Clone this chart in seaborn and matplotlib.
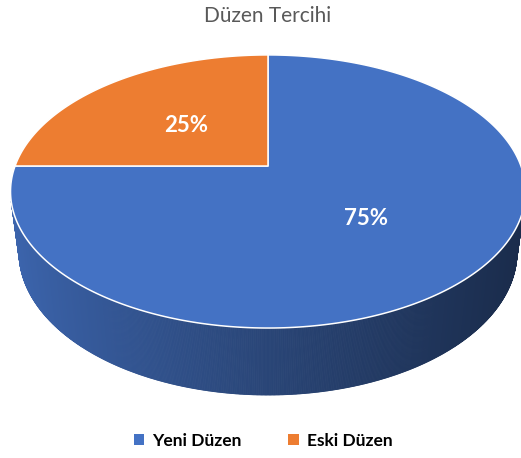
import numpy as np
import matplotlib
matplotlib.use("Agg")
import matplotlib.pyplot as plt
import seaborn as sns
from matplotlib.patches import Patch
from matplotlib.collections import PolyCollection
from matplotlib.colors import to_rgb

# ---- data ----
categories = ["Yeni Düzen", "Eski Düzen"]
values = [75, 25]
title = "Düzen Tercihi"

sns.set_theme(style="white")
plt.rcParams['font.family'] = ['Lato', 'DejaVu Sans']

top_colors = ["#4472C4", "#ED7D31"]

# ---- 3D perspective projection of a disc ----
elev = np.deg2rad(31.4)
dist = 4.574
scale = 1157.0
cx, cy = 268.0, 166.0
thick = 0.287
S, C = np.sin(elev), np.cos(elev)


def project(x, y, z):
    depth = dist + y * C - z * S
    px = cx + scale * x / depth
    py = cy - scale * (y * S + z * C) / depth
    return px, py


fig = plt.figure(figsize=(5.21, 4.58), dpi=100)
ax = fig.add_axes([0, 0, 1, 1])
ax.set_xlim(0, 521)
ax.set_ylim(458, 0)
ax.axis("off")

total = float(sum(values))
cum = np.concatenate([[0], np.cumsum(values)]) / total
theta1 = np.deg2rad(90 - 360 * cum[:-1])
theta2 = np.deg2rad(90 - 360 * cum[1:])


def slice_of(t):
    # angle measured clockwise from 90 deg
    frac = ((np.pi / 2 - t) % (2 * np.pi)) / (2 * np.pi)
    return int(np.searchsorted(cum[1:], frac, side="right"))

# ---- side wall (front facing only) ----
n = 720
ts = np.linspace(-np.pi, 0, n + 1)
thr = -1.0 / (dist * C)
xl, xr = 13.0, 521.0
polys, cols = [], []
for a, b in zip(ts[:-1], ts[1:]):
    m = 0.5 * (a + b)
    if np.sin(m) > thr:
        continue
    p1 = project(np.cos(a), np.sin(a), 0)
    p2 = project(np.cos(b), np.sin(b), 0)
    p3 = project(np.cos(b), np.sin(b), -thick)
    p4 = project(np.cos(a), np.sin(a), -thick)
    polys.append([p1, p2, p3, p4])
    u = np.clip((0.5 * (p1[0] + p2[0]) - xl) / (xr - xl), 0, 1)
    f = 0.88 - 0.49 * u ** 0.85
    base = np.array(to_rgb(top_colors[slice_of(m)]))
    cols.append(tuple(base * f))
ax.add_collection(PolyCollection(polys, facecolors=cols, edgecolors=cols,
                                 linewidths=0.6, antialiased=True))

# ---- top face wedges ----
for i in range(len(values)):
    tt = np.linspace(theta1[i], theta2[i], 300)
    xs, ys = project(np.cos(tt), np.sin(tt), 0)
    ox, oy = project(0, 0, 0)
    ax.fill(np.r_[ox, xs], np.r_[oy, ys], facecolor=top_colors[i],
            edgecolor="white", linewidth=1.1, joinstyle="round")

# ---- percentage labels ----
for i in range(len(values)):
    mid = 0.5 * (theta1[i] + theta2[i])
    lx, ly = project(0.5 * np.cos(mid), 0.5 * np.sin(mid), 0)
    ax.text(lx + 2, ly + 3, f"{values[i] / total * 100:.0f}%", color="white",
            fontsize=16, fontweight="bold", ha="center", va="center")

# ---- title ----
ax.text(268, 16, title, color="#595959", fontsize=15, ha="center", va="center")

# ---- legend ----
handles = [Patch(facecolor=c, edgecolor="none") for c in top_colors]
leg = ax.legend(handles, categories, loc="center",
                bbox_to_anchor=(263 / 521, 1 - 441 / 458),
                ncol=2, frameon=False, handlelength=0.6, handleheight=0.6,
                handletextpad=0.45, columnspacing=2.7,
                prop={"weight": "bold", "size": 12.5})
for t in leg.get_texts():
    t.set_color("black")

fig.savefig("out.png", dpi=100)
